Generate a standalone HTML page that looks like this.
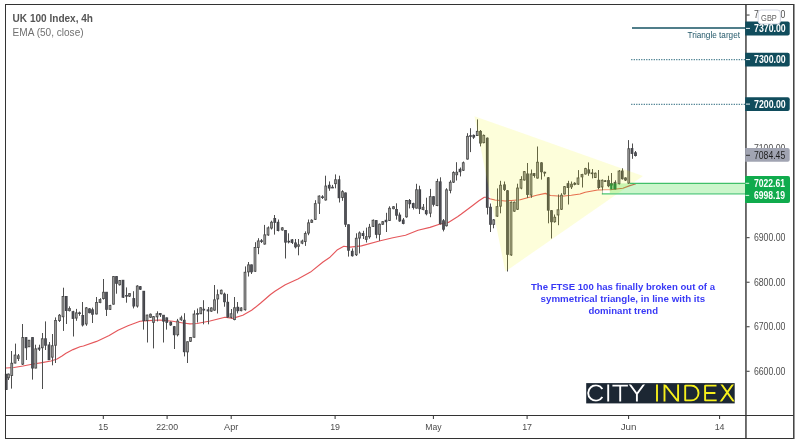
<!DOCTYPE html>
<html><head><meta charset="utf-8"><title>UK 100 Index, 4h</title>
<style>html,body{margin:0;padding:0;background:#fff;}svg{display:block;}text{font-family:"Liberation Sans",sans-serif;}</style>
</head><body><div style="will-change:transform;width:799px;height:445px;background:#fff">
<svg width="799" height="445" viewBox="0 0 799 445">
<rect x="0" y="0" width="799" height="445" fill="#ffffff"/>
<line x1="632" y1="28" x2="746" y2="28" stroke="#165363" stroke-width="1.7"/>
<line x1="631.2" y1="59.7" x2="746" y2="59.7" stroke="#41798a" stroke-width="1.3" stroke-dasharray="1.2,1.3"/>
<line x1="631.2" y1="104.3" x2="746" y2="104.3" stroke="#41798a" stroke-width="1.3" stroke-dasharray="1.2,1.3"/>
<text x="740" y="37.7" font-size="8.2" fill="#24596a" text-anchor="end" textLength="52.5" lengthAdjust="spacingAndGlyphs">Triangle target</text>
<polyline points="6,368 14,367.5 23,366 32,364.2 42,362.6 51,361 57,359 62,356 66,353.2 73,349.6 80,346.8 83.4,346 96.6,341.4 109.2,335.5 118,330.3 128,325.8 140,321.2 148.6,320.6 160,320 172.7,321.2 183,323 190,323.9 197,323.5 210,321 225,317.2 232.7,318.4 242.8,315.3 251.6,310.3 260.4,303.3 270.5,294.5 275.3,291 285.3,284.7 297.9,279 310.5,272.1 323,262 330,257.2 337.5,249.7 343.8,246.3 350,247.1 361.4,245.9 380.3,240.8 392.9,237.7 405.5,235.2 418,230.2 430,227.4 439.4,224.2 448.4,222.4 457.9,216.5 461,214.3 471.7,206.2 478.9,200.8 484.3,197.2 487,197.2 489.7,198.7 495,200 505.2,201 520.2,199.7 536.6,195.3 545.4,193.4 550.4,195.5 561.8,196.2 571.3,195.3 580,194 585.2,192.2 597.7,190 610.3,189.7 622.9,188.2 629.2,185.9 636,183.8" fill="none" stroke="#e5575b" stroke-width="1.15" stroke-linejoin="round"/>
<g shape-rendering="auto">
<rect x="6" y="374" width="1" height="16" fill="#4e4e4e"/>
<rect x="4.9" y="373.8" width="2.7" height="16.1" fill="#3d3e43"/>
<rect x="5.7" y="374.3" width="1.1" height="15.1" fill="#515258"/>
<rect x="8" y="373.5" width="1" height="6.5" fill="#4e4e4e"/>
<rect x="7.15" y="373.7" width="2.7" height="4.5" fill="#484848"/>
<rect x="7.85" y="374.6" width="1.3" height="2.7" fill="#959595"/>
<rect x="11" y="351" width="1" height="37.6" fill="#4e4e4e"/>
<rect x="10.4" y="362.8" width="2.7" height="13.1" fill="#484848"/>
<rect x="11.1" y="363.7" width="1.3" height="11.3" fill="#959595"/>
<rect x="15" y="343.6" width="1" height="19.7" fill="#4e4e4e"/>
<rect x="13.65" y="354.6" width="2.7" height="8.9" fill="#484848"/>
<rect x="14.35" y="355.5" width="1.3" height="7.1" fill="#959595"/>
<rect x="18" y="354" width="1" height="7" fill="#4e4e4e"/>
<rect x="16.9" y="355.4" width="2.7" height="3.5" fill="#484848"/>
<rect x="17.6" y="356" width="1.3" height="2.3" fill="#767676"/>
<rect x="22" y="324" width="1" height="41" fill="#4e4e4e"/>
<rect x="21.4" y="337.1" width="2.7" height="27.5" fill="#484848"/>
<rect x="22.1" y="338" width="1.3" height="25.7" fill="#959595"/>
<rect x="26" y="337.3" width="1" height="22.7" fill="#4e4e4e"/>
<rect x="24.65" y="337.1" width="2.7" height="11.1" fill="#3d3e43"/>
<rect x="25.45" y="337.6" width="1.1" height="10.1" fill="#515258"/>
<rect x="29" y="340" width="1" height="7" fill="#4e4e4e"/>
<rect x="27.65" y="339.8" width="2.7" height="7.4" fill="#484848"/>
<rect x="28.35" y="340.7" width="1.3" height="5.6" fill="#959595"/>
<rect x="32" y="337.3" width="1" height="42.3" fill="#4e4e4e"/>
<rect x="31.15" y="337.1" width="2.7" height="31.4" fill="#3d3e43"/>
<rect x="31.95" y="337.6" width="1.1" height="30.4" fill="#515258"/>
<rect x="35" y="344.7" width="1" height="23.6" fill="#4e4e4e"/>
<rect x="34.4" y="348.4" width="2.7" height="20.1" fill="#484848"/>
<rect x="35.1" y="349.3" width="1.3" height="18.3" fill="#959595"/>
<rect x="39" y="344.7" width="1" height="6.3" fill="#4e4e4e"/>
<rect x="37.65" y="347.6" width="2.7" height="2" fill="#3d3e43"/>
<rect x="38.45" y="348.1" width="1.1" height="1" fill="#515258"/>
<rect x="42" y="333" width="1" height="56" fill="#4e4e4e"/>
<rect x="40.9" y="338.3" width="2.7" height="9.9" fill="#484848"/>
<rect x="41.6" y="339.2" width="1.3" height="8.1" fill="#959595"/>
<rect x="45" y="321.4" width="1" height="28.6" fill="#4e4e4e"/>
<rect x="44.15" y="338.3" width="2.7" height="7.4" fill="#3d3e43"/>
<rect x="44.95" y="338.8" width="1.1" height="6.4" fill="#515258"/>
<rect x="49" y="342" width="1" height="18" fill="#4e4e4e"/>
<rect x="47.65" y="344.5" width="2.7" height="15.7" fill="#3d3e43"/>
<rect x="48.45" y="345" width="1.1" height="14.7" fill="#515258"/>
<rect x="52" y="334" width="1" height="31.3" fill="#4e4e4e"/>
<rect x="50.9" y="345.3" width="2.7" height="12.3" fill="#484848"/>
<rect x="51.6" y="346.2" width="1.3" height="10.5" fill="#959595"/>
<rect x="55" y="317.4" width="1" height="45.6" fill="#4e4e4e"/>
<rect x="54.15" y="320" width="2.7" height="25.7" fill="#484848"/>
<rect x="54.85" y="320.9" width="1.3" height="23.9" fill="#959595"/>
<rect x="59" y="314" width="1" height="8" fill="#4e4e4e"/>
<rect x="58.15" y="314.8" width="2.7" height="6.2" fill="#484848"/>
<rect x="58.85" y="315.7" width="1.3" height="4.4" fill="#959595"/>
<rect x="63" y="287.7" width="1" height="43.2" fill="#4e4e4e"/>
<rect x="61.65" y="296" width="2.7" height="21.2" fill="#484848"/>
<rect x="62.35" y="296.9" width="1.3" height="19.4" fill="#959595"/>
<rect x="66" y="296" width="1" height="28" fill="#4e4e4e"/>
<rect x="64.9" y="296" width="2.7" height="15" fill="#3d3e43"/>
<rect x="65.7" y="296.5" width="1.1" height="14" fill="#515258"/>
<rect x="69" y="306.4" width="1" height="5" fill="#4e4e4e"/>
<rect x="68.15" y="308.1" width="2.7" height="3" fill="#484848"/>
<rect x="68.85" y="308.7" width="1.3" height="1.8" fill="#767676"/>
<rect x="73" y="310.8" width="1" height="25.7" fill="#4e4e4e"/>
<rect x="71.65" y="311.2" width="2.7" height="7.7" fill="#3d3e43"/>
<rect x="72.45" y="311.7" width="1.1" height="6.7" fill="#515258"/>
<rect x="76" y="308.9" width="1" height="11.9" fill="#4e4e4e"/>
<rect x="74.9" y="312.4" width="2.7" height="6.1" fill="#484848"/>
<rect x="75.6" y="313.3" width="1.3" height="4.3" fill="#959595"/>
<rect x="79" y="311.6" width="1" height="4.2" fill="#4e4e4e"/>
<rect x="78.15" y="312.4" width="2.7" height="1.6" fill="#3d3e43"/>
<rect x="78.95" y="312.9" width="1.1" height="0.6" fill="#515258"/>
<rect x="82" y="302" width="1" height="24.5" fill="#4e4e4e"/>
<rect x="81.4" y="315" width="2.7" height="10.4" fill="#3d3e43"/>
<rect x="82.2" y="315.5" width="1.1" height="9.4" fill="#515258"/>
<rect x="86" y="307" width="1" height="18.8" fill="#4e4e4e"/>
<rect x="84.9" y="307.4" width="2.7" height="17" fill="#484848"/>
<rect x="85.6" y="308.3" width="1.3" height="15.2" fill="#959595"/>
<rect x="89" y="308.2" width="1" height="5.1" fill="#4e4e4e"/>
<rect x="88.15" y="308.4" width="2.7" height="4.7" fill="#3d3e43"/>
<rect x="88.95" y="308.9" width="1.1" height="3.7" fill="#515258"/>
<rect x="92" y="307.6" width="1" height="15.4" fill="#4e4e4e"/>
<rect x="91.15" y="309.3" width="2.7" height="5.4" fill="#3d3e43"/>
<rect x="91.95" y="309.8" width="1.1" height="4.4" fill="#515258"/>
<rect x="96" y="297" width="1" height="17.4" fill="#4e4e4e"/>
<rect x="95.15" y="302" width="2.7" height="12.4" fill="#484848"/>
<rect x="95.85" y="302.9" width="1.3" height="10.6" fill="#959595"/>
<rect x="100" y="298.2" width="1" height="5" fill="#4e4e4e"/>
<rect x="98.65" y="299.1" width="2.7" height="3.9" fill="#484848"/>
<rect x="99.35" y="299.7" width="1.3" height="2.7" fill="#767676"/>
<rect x="103" y="279" width="1" height="20.6" fill="#4e4e4e"/>
<rect x="102.15" y="291.8" width="2.7" height="7.2" fill="#484848"/>
<rect x="102.85" y="292.7" width="1.3" height="5.4" fill="#959595"/>
<rect x="106" y="292" width="1" height="24" fill="#4e4e4e"/>
<rect x="105.15" y="291.8" width="2.7" height="18" fill="#3d3e43"/>
<rect x="105.95" y="292.3" width="1.1" height="17" fill="#515258"/>
<rect x="110" y="304.8" width="1" height="5.1" fill="#4e4e4e"/>
<rect x="108.65" y="305.1" width="2.7" height="4.7" fill="#484848"/>
<rect x="109.35" y="306" width="1.3" height="2.9" fill="#959595"/>
<rect x="113" y="276.3" width="1" height="28.3" fill="#4e4e4e"/>
<rect x="112.15" y="276.1" width="2.7" height="28.5" fill="#484848"/>
<rect x="112.85" y="277" width="1.3" height="26.7" fill="#959595"/>
<rect x="116" y="276.3" width="1" height="17.4" fill="#4e4e4e"/>
<rect x="115.15" y="276.1" width="2.7" height="7.7" fill="#3d3e43"/>
<rect x="115.95" y="276.6" width="1.1" height="6.7" fill="#515258"/>
<rect x="119" y="280" width="1" height="5.5" fill="#4e4e4e"/>
<rect x="118.4" y="280.1" width="2.7" height="5.1" fill="#484848"/>
<rect x="119.1" y="281" width="1.3" height="3.3" fill="#959595"/>
<rect x="123" y="280" width="1" height="18" fill="#4e4e4e"/>
<rect x="121.65" y="279.8" width="2.7" height="17.9" fill="#3d3e43"/>
<rect x="122.45" y="280.3" width="1.1" height="16.9" fill="#515258"/>
<rect x="126" y="287.4" width="1" height="15.3" fill="#4e4e4e"/>
<rect x="125.15" y="295" width="2.7" height="1.6" fill="#3d3e43"/>
<rect x="125.95" y="295.5" width="1.1" height="0.6" fill="#515258"/>
<rect x="129" y="293" width="1" height="4" fill="#4e4e4e"/>
<rect x="128.15" y="293.1" width="2.7" height="3.5" fill="#484848"/>
<rect x="128.85" y="293.7" width="1.3" height="2.3" fill="#767676"/>
<rect x="133" y="291.2" width="1" height="17.2" fill="#4e4e4e"/>
<rect x="132.4" y="298.1" width="2.7" height="8.4" fill="#3d3e43"/>
<rect x="133.2" y="298.6" width="1.1" height="7.4" fill="#515258"/>
<rect x="137" y="285.2" width="1" height="22.4" fill="#4e4e4e"/>
<rect x="135.9" y="285.6" width="2.7" height="20.9" fill="#484848"/>
<rect x="136.6" y="286.5" width="1.3" height="19.1" fill="#959595"/>
<rect x="140" y="286" width="1" height="4" fill="#4e4e4e"/>
<rect x="138.9" y="286.2" width="2.7" height="3.5" fill="#3d3e43"/>
<rect x="139.7" y="286.7" width="1.1" height="2.5" fill="#515258"/>
<rect x="143" y="291" width="1" height="38.6" fill="#4e4e4e"/>
<rect x="142.4" y="290.8" width="2.7" height="30.2" fill="#3d3e43"/>
<rect x="143.2" y="291.3" width="1.1" height="29.2" fill="#515258"/>
<rect x="147" y="314.8" width="1" height="27.7" fill="#4e4e4e"/>
<rect x="145.65" y="314.6" width="2.7" height="6.4" fill="#484848"/>
<rect x="146.35" y="315.5" width="1.3" height="4.6" fill="#959595"/>
<rect x="150" y="313.5" width="1" height="4.5" fill="#4e4e4e"/>
<rect x="149.15" y="313.8" width="2.7" height="3.9" fill="#484848"/>
<rect x="149.85" y="314.4" width="1.3" height="2.7" fill="#767676"/>
<rect x="153" y="316" width="1" height="32.4" fill="#4e4e4e"/>
<rect x="152.15" y="316.2" width="2.7" height="6.6" fill="#484848"/>
<rect x="152.85" y="317.1" width="1.3" height="4.8" fill="#959595"/>
<rect x="157" y="311.3" width="1" height="10.1" fill="#4e4e4e"/>
<rect x="155.65" y="313.3" width="2.7" height="4" fill="#484848"/>
<rect x="156.35" y="314.2" width="1.3" height="2.2" fill="#959595"/>
<rect x="160" y="313" width="1" height="4" fill="#4e4e4e"/>
<rect x="158.9" y="313" width="2.7" height="2.2" fill="#3d3e43"/>
<rect x="159.7" y="313.5" width="1.1" height="1.2" fill="#515258"/>
<rect x="163" y="315" width="1" height="27.5" fill="#4e4e4e"/>
<rect x="162.15" y="314.8" width="2.7" height="6.8" fill="#3d3e43"/>
<rect x="162.95" y="315.3" width="1.1" height="5.8" fill="#515258"/>
<rect x="166" y="317.6" width="1" height="12" fill="#4e4e4e"/>
<rect x="165.4" y="317.4" width="2.7" height="5.4" fill="#3d3e43"/>
<rect x="166.2" y="317.9" width="1.1" height="4.4" fill="#515258"/>
<rect x="170" y="321.5" width="1" height="4.3" fill="#4e4e4e"/>
<rect x="169.4" y="321.8" width="2.7" height="3.6" fill="#3d3e43"/>
<rect x="170.2" y="322.3" width="1.1" height="2.6" fill="#515258"/>
<rect x="174" y="326" width="1" height="23" fill="#4e4e4e"/>
<rect x="172.9" y="326.2" width="2.7" height="9" fill="#3d3e43"/>
<rect x="173.7" y="326.7" width="1.1" height="8" fill="#515258"/>
<rect x="177" y="318.9" width="1" height="17.5" fill="#4e4e4e"/>
<rect x="176.4" y="320.6" width="2.7" height="14.6" fill="#484848"/>
<rect x="177.1" y="321.5" width="1.3" height="12.8" fill="#959595"/>
<rect x="181" y="315.7" width="1" height="5.1" fill="#4e4e4e"/>
<rect x="179.65" y="317.4" width="2.7" height="2.8" fill="#484848"/>
<rect x="180.35" y="318" width="1.3" height="1.6" fill="#767676"/>
<rect x="184" y="313.2" width="1" height="43.2" fill="#4e4e4e"/>
<rect x="182.9" y="319.8" width="2.7" height="32.4" fill="#3d3e43"/>
<rect x="183.7" y="320.3" width="1.1" height="31.4" fill="#515258"/>
<rect x="187" y="341.5" width="1" height="21.5" fill="#4e4e4e"/>
<rect x="186.15" y="341.3" width="2.7" height="11" fill="#484848"/>
<rect x="186.85" y="342.2" width="1.3" height="9.2" fill="#959595"/>
<rect x="190" y="337" width="1" height="5" fill="#4e4e4e"/>
<rect x="189.15" y="337" width="2.7" height="4.7" fill="#484848"/>
<rect x="189.85" y="337.9" width="1.3" height="2.9" fill="#959595"/>
<rect x="194" y="310.3" width="1" height="27.2" fill="#4e4e4e"/>
<rect x="192.65" y="313.6" width="2.7" height="24.1" fill="#484848"/>
<rect x="193.35" y="314.5" width="1.3" height="22.3" fill="#959595"/>
<rect x="197" y="308.5" width="1" height="14" fill="#4e4e4e"/>
<rect x="196.15" y="313" width="2.7" height="1.7" fill="#3d3e43"/>
<rect x="196.95" y="313.5" width="1.1" height="0.7" fill="#515258"/>
<rect x="200" y="307.5" width="1" height="6.5" fill="#4e4e4e"/>
<rect x="199.4" y="307.3" width="2.7" height="6.9" fill="#484848"/>
<rect x="200.1" y="308.2" width="1.3" height="5.1" fill="#959595"/>
<rect x="203" y="300.2" width="1" height="24.1" fill="#4e4e4e"/>
<rect x="202.4" y="308.8" width="2.7" height="1.7" fill="#3d3e43"/>
<rect x="203.2" y="309.3" width="1.1" height="0.7" fill="#515258"/>
<rect x="208" y="307" width="1" height="17.3" fill="#4e4e4e"/>
<rect x="206.65" y="309.4" width="2.7" height="2" fill="#3d3e43"/>
<rect x="207.45" y="309.9" width="1.1" height="1" fill="#515258"/>
<rect x="211" y="307.4" width="1" height="4.4" fill="#4e4e4e"/>
<rect x="209.9" y="307.5" width="2.7" height="4.1" fill="#484848"/>
<rect x="210.6" y="308.4" width="1.3" height="2.3" fill="#959595"/>
<rect x="214" y="285" width="1" height="25.7" fill="#4e4e4e"/>
<rect x="213.15" y="299.4" width="2.7" height="11.2" fill="#484848"/>
<rect x="213.85" y="300.3" width="1.3" height="9.4" fill="#959595"/>
<rect x="217" y="289.5" width="1" height="24" fill="#4e4e4e"/>
<rect x="216.4" y="294.3" width="2.7" height="5.1" fill="#484848"/>
<rect x="217.1" y="295.2" width="1.3" height="3.3" fill="#959595"/>
<rect x="221" y="289.6" width="1" height="4.8" fill="#4e4e4e"/>
<rect x="219.9" y="289.8" width="2.7" height="4.4" fill="#484848"/>
<rect x="220.6" y="290.7" width="1.3" height="2.6" fill="#959595"/>
<rect x="224" y="292.6" width="1" height="14.1" fill="#4e4e4e"/>
<rect x="223.15" y="293.7" width="2.7" height="8.5" fill="#3d3e43"/>
<rect x="223.95" y="294.2" width="1.1" height="7.5" fill="#515258"/>
<rect x="227" y="293.9" width="1" height="23.7" fill="#4e4e4e"/>
<rect x="226.4" y="301.8" width="2.7" height="15.7" fill="#3d3e43"/>
<rect x="227.2" y="302.3" width="1.1" height="14.7" fill="#515258"/>
<rect x="231" y="309" width="1" height="9.4" fill="#4e4e4e"/>
<rect x="229.65" y="313.3" width="2.7" height="4.4" fill="#484848"/>
<rect x="230.35" y="314.2" width="1.3" height="2.6" fill="#959595"/>
<rect x="234" y="297" width="1" height="23.3" fill="#4e4e4e"/>
<rect x="233.15" y="307.3" width="2.7" height="12.7" fill="#484848"/>
<rect x="233.85" y="308.2" width="1.3" height="10.9" fill="#959595"/>
<rect x="237" y="302" width="1" height="11.4" fill="#4e4e4e"/>
<rect x="236.4" y="306.8" width="2.7" height="4.4" fill="#3d3e43"/>
<rect x="237.2" y="307.3" width="1.1" height="3.4" fill="#515258"/>
<rect x="241" y="307.3" width="1" height="4" fill="#4e4e4e"/>
<rect x="239.65" y="307.5" width="2.7" height="3.6" fill="#484848"/>
<rect x="240.35" y="308.1" width="1.3" height="2.4" fill="#767676"/>
<rect x="245" y="266.4" width="1" height="44.2" fill="#4e4e4e"/>
<rect x="243.65" y="271.8" width="2.7" height="38.4" fill="#484848"/>
<rect x="244.35" y="272.7" width="1.3" height="36.6" fill="#959595"/>
<rect x="248" y="262" width="1" height="14.5" fill="#4e4e4e"/>
<rect x="247.15" y="264.4" width="2.7" height="7.9" fill="#484848"/>
<rect x="247.85" y="265.3" width="1.3" height="6.1" fill="#959595"/>
<rect x="251" y="264.6" width="1" height="9.4" fill="#4e4e4e"/>
<rect x="250.15" y="264.4" width="2.7" height="7.9" fill="#3d3e43"/>
<rect x="250.95" y="264.9" width="1.1" height="6.9" fill="#515258"/>
<rect x="255" y="242.2" width="1" height="29.6" fill="#4e4e4e"/>
<rect x="253.65" y="247" width="2.7" height="24.7" fill="#484848"/>
<rect x="254.35" y="247.9" width="1.3" height="22.9" fill="#959595"/>
<rect x="258" y="238.2" width="1" height="16" fill="#4e4e4e"/>
<rect x="256.9" y="240.5" width="2.7" height="7.4" fill="#484848"/>
<rect x="257.6" y="241.4" width="1.3" height="5.6" fill="#959595"/>
<rect x="261" y="239" width="1" height="4" fill="#4e4e4e"/>
<rect x="260.15" y="240.3" width="2.7" height="1.6" fill="#3d3e43"/>
<rect x="260.95" y="240.8" width="1.1" height="0.6" fill="#515258"/>
<rect x="264" y="224.9" width="1" height="19.7" fill="#4e4e4e"/>
<rect x="263.4" y="234.4" width="2.7" height="10.1" fill="#484848"/>
<rect x="264.1" y="235.3" width="1.3" height="8.3" fill="#959595"/>
<rect x="268" y="226.4" width="1" height="9.4" fill="#4e4e4e"/>
<rect x="266.65" y="227.4" width="2.7" height="8" fill="#484848"/>
<rect x="267.35" y="228.3" width="1.3" height="6.2" fill="#959595"/>
<rect x="271" y="220.7" width="1" height="8.8" fill="#4e4e4e"/>
<rect x="270.15" y="221.8" width="2.7" height="6.7" fill="#484848"/>
<rect x="270.85" y="222.7" width="1.3" height="4.9" fill="#959595"/>
<rect x="274" y="215" width="1" height="19.6" fill="#4e4e4e"/>
<rect x="273.4" y="218" width="2.7" height="4.8" fill="#3d3e43"/>
<rect x="274.2" y="218.5" width="1.1" height="3.8" fill="#515258"/>
<rect x="278" y="219.5" width="1" height="11.9" fill="#4e4e4e"/>
<rect x="276.65" y="221.8" width="2.7" height="9.2" fill="#3d3e43"/>
<rect x="277.45" y="222.3" width="1.1" height="8.2" fill="#515258"/>
<rect x="282" y="227.2" width="1" height="3.4" fill="#4e4e4e"/>
<rect x="280.9" y="227.4" width="2.7" height="3" fill="#484848"/>
<rect x="281.6" y="228" width="1.3" height="1.8" fill="#767676"/>
<rect x="285" y="230.2" width="1" height="28.3" fill="#4e4e4e"/>
<rect x="284.15" y="230" width="2.7" height="12.6" fill="#3d3e43"/>
<rect x="284.95" y="230.5" width="1.1" height="11.6" fill="#515258"/>
<rect x="288" y="233.3" width="1" height="10.1" fill="#4e4e4e"/>
<rect x="287.4" y="240.8" width="2.7" height="1.6" fill="#3d3e43"/>
<rect x="288.2" y="241.3" width="1.1" height="0.6" fill="#515258"/>
<rect x="292" y="239" width="1" height="5" fill="#4e4e4e"/>
<rect x="290.65" y="239.4" width="2.7" height="3.5" fill="#3d3e43"/>
<rect x="291.45" y="239.9" width="1.1" height="2.5" fill="#515258"/>
<rect x="295" y="239" width="1" height="9.4" fill="#4e4e4e"/>
<rect x="294.15" y="242.5" width="2.7" height="4.8" fill="#3d3e43"/>
<rect x="294.95" y="243" width="1.1" height="3.8" fill="#515258"/>
<rect x="298" y="239" width="1" height="16.3" fill="#4e4e4e"/>
<rect x="297.15" y="244.4" width="2.7" height="2.3" fill="#484848"/>
<rect x="297.85" y="245" width="1.3" height="1.1" fill="#767676"/>
<rect x="302" y="239.6" width="1" height="4.6" fill="#4e4e4e"/>
<rect x="300.65" y="240.6" width="2.7" height="3" fill="#484848"/>
<rect x="301.35" y="241.2" width="1.3" height="1.8" fill="#767676"/>
<rect x="305" y="231.4" width="1" height="14.5" fill="#4e4e4e"/>
<rect x="303.9" y="233.1" width="2.7" height="8.8" fill="#484848"/>
<rect x="304.6" y="234" width="1.3" height="7" fill="#959595"/>
<rect x="308" y="219.5" width="1" height="15.7" fill="#4e4e4e"/>
<rect x="307.15" y="222.4" width="2.7" height="11.1" fill="#484848"/>
<rect x="307.85" y="223.3" width="1.3" height="9.3" fill="#959595"/>
<rect x="311" y="219.3" width="1" height="3.7" fill="#4e4e4e"/>
<rect x="310.4" y="219.8" width="2.7" height="3" fill="#484848"/>
<rect x="311.1" y="220.4" width="1.3" height="1.8" fill="#767676"/>
<rect x="315" y="200.2" width="1" height="19.8" fill="#4e4e4e"/>
<rect x="313.9" y="203.2" width="2.7" height="16.6" fill="#484848"/>
<rect x="314.6" y="204.1" width="1.3" height="14.8" fill="#959595"/>
<rect x="319" y="195.4" width="1" height="18.6" fill="#4e4e4e"/>
<rect x="317.65" y="195.6" width="2.7" height="8" fill="#484848"/>
<rect x="318.35" y="196.5" width="1.3" height="6.2" fill="#959595"/>
<rect x="322" y="195.2" width="1" height="3.8" fill="#4e4e4e"/>
<rect x="321.15" y="196.4" width="2.7" height="1.6" fill="#3d3e43"/>
<rect x="321.95" y="196.9" width="1.1" height="0.6" fill="#515258"/>
<rect x="325" y="175.7" width="1" height="24.9" fill="#4e4e4e"/>
<rect x="324.4" y="185.6" width="2.7" height="14.8" fill="#484848"/>
<rect x="325.1" y="186.5" width="1.3" height="13" fill="#959595"/>
<rect x="329" y="181.4" width="1" height="9.4" fill="#4e4e4e"/>
<rect x="327.9" y="184.8" width="2.7" height="3.7" fill="#3d3e43"/>
<rect x="328.7" y="185.3" width="1.1" height="2.7" fill="#515258"/>
<rect x="332" y="184.9" width="1" height="3.1" fill="#4e4e4e"/>
<rect x="331.15" y="186.8" width="2.7" height="1.6" fill="#3d3e43"/>
<rect x="331.95" y="187.3" width="1.1" height="0.6" fill="#515258"/>
<rect x="335" y="174.4" width="1" height="13.9" fill="#4e4e4e"/>
<rect x="334.15" y="179.3" width="2.7" height="4.8" fill="#484848"/>
<rect x="334.85" y="180.2" width="1.3" height="3" fill="#959595"/>
<rect x="339" y="175.7" width="1" height="26.8" fill="#4e4e4e"/>
<rect x="337.65" y="179.3" width="2.7" height="18.9" fill="#3d3e43"/>
<rect x="338.45" y="179.8" width="1.1" height="17.9" fill="#515258"/>
<rect x="342" y="190.2" width="1" height="10.6" fill="#4e4e4e"/>
<rect x="341.15" y="191.2" width="2.7" height="6.7" fill="#484848"/>
<rect x="341.85" y="192.1" width="1.3" height="4.9" fill="#959595"/>
<rect x="345" y="192.5" width="1" height="34.5" fill="#4e4e4e"/>
<rect x="344.15" y="192.5" width="2.7" height="32.2" fill="#3d3e43"/>
<rect x="344.95" y="193" width="1.1" height="31.2" fill="#515258"/>
<rect x="348" y="224.5" width="1" height="32.1" fill="#4e4e4e"/>
<rect x="347.15" y="224.3" width="2.7" height="26.4" fill="#3d3e43"/>
<rect x="347.95" y="224.8" width="1.1" height="25.4" fill="#515258"/>
<rect x="352" y="248.4" width="1" height="8.2" fill="#4e4e4e"/>
<rect x="350.9" y="250.8" width="2.7" height="5.4" fill="#3d3e43"/>
<rect x="351.7" y="251.3" width="1.1" height="4.4" fill="#515258"/>
<rect x="356" y="233.3" width="1" height="22.7" fill="#4e4e4e"/>
<rect x="354.9" y="237.8" width="2.7" height="17.4" fill="#484848"/>
<rect x="355.6" y="238.7" width="1.3" height="15.6" fill="#959595"/>
<rect x="359" y="231.4" width="1" height="22" fill="#4e4e4e"/>
<rect x="358.15" y="232.5" width="2.7" height="6" fill="#484848"/>
<rect x="358.85" y="233.4" width="1.3" height="4.2" fill="#959595"/>
<rect x="363" y="230.8" width="1" height="8.2" fill="#4e4e4e"/>
<rect x="361.65" y="233.1" width="2.7" height="2.9" fill="#3d3e43"/>
<rect x="362.45" y="233.6" width="1.1" height="1.9" fill="#515258"/>
<rect x="366" y="227.6" width="1" height="14.9" fill="#4e4e4e"/>
<rect x="364.9" y="236.2" width="2.7" height="3.6" fill="#484848"/>
<rect x="365.6" y="236.8" width="1.3" height="2.4" fill="#767676"/>
<rect x="369" y="223.9" width="1" height="14.8" fill="#4e4e4e"/>
<rect x="368.15" y="226.8" width="2.7" height="10.4" fill="#484848"/>
<rect x="368.85" y="227.7" width="1.3" height="8.6" fill="#959595"/>
<rect x="373" y="219.5" width="1" height="7.5" fill="#4e4e4e"/>
<rect x="371.65" y="219.8" width="2.7" height="7" fill="#484848"/>
<rect x="372.35" y="220.7" width="1.3" height="5.2" fill="#959595"/>
<rect x="376" y="220.3" width="1" height="18" fill="#4e4e4e"/>
<rect x="374.9" y="220.1" width="2.7" height="14.7" fill="#3d3e43"/>
<rect x="375.7" y="220.6" width="1.1" height="13.7" fill="#515258"/>
<rect x="379" y="223.5" width="1" height="17.3" fill="#4e4e4e"/>
<rect x="378.15" y="223.8" width="2.7" height="11" fill="#484848"/>
<rect x="378.85" y="224.7" width="1.3" height="9.2" fill="#959595"/>
<rect x="382" y="221" width="1" height="4" fill="#4e4e4e"/>
<rect x="381.4" y="221.2" width="2.7" height="3.5" fill="#484848"/>
<rect x="382.1" y="221.8" width="1.3" height="2.3" fill="#767676"/>
<rect x="386" y="212.8" width="1" height="19.2" fill="#4e4e4e"/>
<rect x="384.65" y="219.8" width="2.7" height="2.4" fill="#3d3e43"/>
<rect x="385.45" y="220.3" width="1.1" height="1.4" fill="#515258"/>
<rect x="389" y="206.3" width="1" height="14.7" fill="#4e4e4e"/>
<rect x="388.15" y="207.8" width="2.7" height="13.1" fill="#484848"/>
<rect x="388.85" y="208.7" width="1.3" height="11.3" fill="#959595"/>
<rect x="393" y="206" width="1" height="3.3" fill="#4e4e4e"/>
<rect x="392.15" y="206.3" width="2.7" height="2.8" fill="#484848"/>
<rect x="392.85" y="206.9" width="1.3" height="1.6" fill="#767676"/>
<rect x="396" y="203.3" width="1" height="16.3" fill="#4e4e4e"/>
<rect x="395.15" y="209" width="2.7" height="6.7" fill="#3d3e43"/>
<rect x="395.95" y="209.5" width="1.1" height="5.7" fill="#515258"/>
<rect x="399" y="212.5" width="1" height="9.3" fill="#4e4e4e"/>
<rect x="398.4" y="214.6" width="2.7" height="6.8" fill="#3d3e43"/>
<rect x="399.2" y="215.1" width="1.1" height="5.8" fill="#515258"/>
<rect x="403" y="218" width="1" height="6.3" fill="#4e4e4e"/>
<rect x="401.9" y="219.6" width="2.7" height="4.3" fill="#3d3e43"/>
<rect x="402.7" y="220.1" width="1.1" height="3.3" fill="#515258"/>
<rect x="406" y="200.2" width="1" height="17.5" fill="#4e4e4e"/>
<rect x="405.15" y="200" width="2.7" height="17.3" fill="#484848"/>
<rect x="405.85" y="200.9" width="1.3" height="15.5" fill="#959595"/>
<rect x="409" y="199" width="1" height="9.4" fill="#4e4e4e"/>
<rect x="408.4" y="200" width="2.7" height="4.2" fill="#3d3e43"/>
<rect x="409.2" y="200.5" width="1.1" height="3.2" fill="#515258"/>
<rect x="413" y="202.7" width="1" height="6.8" fill="#4e4e4e"/>
<rect x="411.9" y="203.1" width="2.7" height="4.8" fill="#3d3e43"/>
<rect x="412.7" y="203.6" width="1.1" height="3.8" fill="#515258"/>
<rect x="416" y="183.8" width="1" height="24.6" fill="#4e4e4e"/>
<rect x="415.15" y="189.3" width="2.7" height="19.3" fill="#484848"/>
<rect x="415.85" y="190.2" width="1.3" height="17.5" fill="#959595"/>
<rect x="419" y="185.7" width="1" height="28.3" fill="#4e4e4e"/>
<rect x="418.4" y="189.3" width="2.7" height="19.9" fill="#3d3e43"/>
<rect x="419.2" y="189.8" width="1.1" height="18.9" fill="#515258"/>
<rect x="423" y="204" width="1" height="6.3" fill="#4e4e4e"/>
<rect x="421.65" y="206.8" width="2.7" height="3.2" fill="#484848"/>
<rect x="422.35" y="207.4" width="1.3" height="2" fill="#767676"/>
<rect x="426" y="197.7" width="1" height="17.6" fill="#4e4e4e"/>
<rect x="424.9" y="210.1" width="2.7" height="4.1" fill="#3d3e43"/>
<rect x="425.7" y="210.6" width="1.1" height="3.1" fill="#515258"/>
<rect x="430" y="188.9" width="1" height="28.3" fill="#4e4e4e"/>
<rect x="428.9" y="196.2" width="2.7" height="17.4" fill="#484848"/>
<rect x="429.6" y="197.1" width="1.3" height="15.6" fill="#959595"/>
<rect x="433" y="196.4" width="1" height="10.1" fill="#4e4e4e"/>
<rect x="432.15" y="196.2" width="2.7" height="8.6" fill="#3d3e43"/>
<rect x="432.95" y="196.7" width="1.1" height="7.6" fill="#515258"/>
<rect x="437" y="178.8" width="1" height="27.4" fill="#4e4e4e"/>
<rect x="435.65" y="181.1" width="2.7" height="24.9" fill="#484848"/>
<rect x="436.35" y="182" width="1.3" height="23.1" fill="#959595"/>
<rect x="440" y="177.3" width="1" height="47.2" fill="#4e4e4e"/>
<rect x="438.9" y="181.4" width="2.7" height="42.8" fill="#3d3e43"/>
<rect x="439.7" y="181.9" width="1.1" height="41.8" fill="#515258"/>
<rect x="443" y="219" width="1" height="12.4" fill="#4e4e4e"/>
<rect x="442.15" y="220.3" width="2.7" height="9.4" fill="#3d3e43"/>
<rect x="442.95" y="220.8" width="1.1" height="8.4" fill="#515258"/>
<rect x="446" y="188.2" width="1" height="38.3" fill="#4e4e4e"/>
<rect x="445.15" y="189.4" width="2.7" height="36.8" fill="#484848"/>
<rect x="445.85" y="190.3" width="1.3" height="35" fill="#959595"/>
<rect x="450" y="180.3" width="1" height="13" fill="#4e4e4e"/>
<rect x="448.9" y="181.8" width="2.7" height="9" fill="#484848"/>
<rect x="449.6" y="182.7" width="1.3" height="7.2" fill="#959595"/>
<rect x="453" y="171.3" width="1" height="11.7" fill="#4e4e4e"/>
<rect x="452.15" y="172.1" width="2.7" height="10.5" fill="#484848"/>
<rect x="452.85" y="173" width="1.3" height="8.7" fill="#959595"/>
<rect x="456" y="162.2" width="1" height="18.3" fill="#4e4e4e"/>
<rect x="455.4" y="171.8" width="2.7" height="3.4" fill="#484848"/>
<rect x="456.1" y="172.4" width="1.3" height="2.2" fill="#767676"/>
<rect x="460" y="167.5" width="1" height="8.9" fill="#4e4e4e"/>
<rect x="458.65" y="168.8" width="2.7" height="3.4" fill="#3d3e43"/>
<rect x="459.45" y="169.3" width="1.1" height="2.4" fill="#515258"/>
<rect x="463" y="161.5" width="1" height="9.5" fill="#4e4e4e"/>
<rect x="461.9" y="162.3" width="2.7" height="8.4" fill="#484848"/>
<rect x="462.6" y="163.2" width="1.3" height="6.6" fill="#959595"/>
<rect x="467" y="133.2" width="1" height="26.4" fill="#4e4e4e"/>
<rect x="466.15" y="135.9" width="2.7" height="23.6" fill="#484848"/>
<rect x="466.85" y="136.8" width="1.3" height="21.8" fill="#959595"/>
<rect x="470" y="128.2" width="1" height="23.9" fill="#4e4e4e"/>
<rect x="469.15" y="135.2" width="2.7" height="1.6" fill="#3d3e43"/>
<rect x="469.95" y="135.7" width="1.1" height="0.6" fill="#515258"/>
<rect x="473" y="134.5" width="1" height="4.4" fill="#4e4e4e"/>
<rect x="472.4" y="134.9" width="2.7" height="2.7" fill="#3d3e43"/>
<rect x="473.2" y="135.4" width="1.1" height="1.7" fill="#515258"/>
<rect x="477" y="119.4" width="1" height="16.6" fill="#4e4e4e"/>
<rect x="475.9" y="130.9" width="2.7" height="5.1" fill="#484848"/>
<rect x="476.6" y="131.8" width="1.3" height="3.3" fill="#959595"/>
<rect x="480" y="130" width="1" height="16.4" fill="#4e4e4e"/>
<rect x="479.15" y="130.9" width="2.7" height="12.6" fill="#3d3e43"/>
<rect x="479.95" y="131.4" width="1.1" height="11.6" fill="#515258"/>
<rect x="483" y="134.5" width="1" height="8.8" fill="#4e4e4e"/>
<rect x="482.4" y="134.9" width="2.7" height="8.2" fill="#484848"/>
<rect x="483.1" y="135.8" width="1.3" height="6.4" fill="#959595"/>
<rect x="487" y="137.5" width="1" height="77" fill="#4e4e4e"/>
<rect x="485.9" y="137.7" width="2.7" height="70.1" fill="#3d3e43"/>
<rect x="486.7" y="138.2" width="1.1" height="69.1" fill="#515258"/>
<rect x="490" y="203.5" width="1" height="28.5" fill="#4e4e4e"/>
<rect x="489.15" y="206.8" width="2.7" height="18" fill="#3d3e43"/>
<rect x="489.95" y="207.3" width="1.1" height="17" fill="#515258"/>
<rect x="493" y="219" width="1" height="9.3" fill="#4e4e4e"/>
<rect x="492.4" y="219.4" width="2.7" height="5.4" fill="#484848"/>
<rect x="493.1" y="220.3" width="1.3" height="3.6" fill="#959595"/>
<rect x="497" y="188.4" width="1" height="28.4" fill="#4e4e4e"/>
<rect x="495.65" y="206.2" width="2.7" height="10.4" fill="#484848"/>
<rect x="496.35" y="207.1" width="1.3" height="8.6" fill="#959595"/>
<rect x="500" y="180.8" width="1" height="32.5" fill="#4e4e4e"/>
<rect x="499.15" y="184.8" width="2.7" height="21.8" fill="#484848"/>
<rect x="499.85" y="185.7" width="1.3" height="20" fill="#959595"/>
<rect x="504" y="181.5" width="1" height="9.5" fill="#4e4e4e"/>
<rect x="503.15" y="184.4" width="2.7" height="5.5" fill="#3d3e43"/>
<rect x="503.95" y="184.9" width="1.1" height="4.5" fill="#515258"/>
<rect x="507" y="190" width="1" height="81.5" fill="#4e4e4e"/>
<rect x="506.15" y="190.3" width="2.7" height="64.5" fill="#3d3e43"/>
<rect x="506.95" y="190.8" width="1.1" height="63.5" fill="#515258"/>
<rect x="511" y="201.5" width="1" height="54.3" fill="#4e4e4e"/>
<rect x="509.65" y="201.8" width="2.7" height="53.6" fill="#484848"/>
<rect x="510.35" y="202.7" width="1.3" height="51.8" fill="#959595"/>
<rect x="514" y="201.5" width="1" height="10.3" fill="#4e4e4e"/>
<rect x="512.9" y="201.8" width="2.7" height="9.8" fill="#484848"/>
<rect x="513.6" y="202.7" width="1.3" height="8" fill="#959595"/>
<rect x="517" y="183.7" width="1" height="26.3" fill="#4e4e4e"/>
<rect x="516.15" y="187.6" width="2.7" height="22.1" fill="#484848"/>
<rect x="516.85" y="188.5" width="1.3" height="20.3" fill="#959595"/>
<rect x="521" y="176.2" width="1" height="13.1" fill="#4e4e4e"/>
<rect x="519.65" y="179" width="2.7" height="9.6" fill="#484848"/>
<rect x="520.35" y="179.9" width="1.3" height="7.8" fill="#959595"/>
<rect x="524" y="171" width="1" height="9.6" fill="#4e4e4e"/>
<rect x="522.9" y="171.2" width="2.7" height="9.2" fill="#484848"/>
<rect x="523.6" y="172.1" width="1.3" height="7.4" fill="#959595"/>
<rect x="527" y="163" width="1" height="35" fill="#4e4e4e"/>
<rect x="526.15" y="173.5" width="2.7" height="21.4" fill="#3d3e43"/>
<rect x="526.95" y="174" width="1.1" height="20.4" fill="#515258"/>
<rect x="531" y="169.5" width="1" height="28.3" fill="#4e4e4e"/>
<rect x="529.65" y="173.5" width="2.7" height="22" fill="#484848"/>
<rect x="530.35" y="174.4" width="1.3" height="20.2" fill="#959595"/>
<rect x="534" y="173" width="1" height="4.7" fill="#4e4e4e"/>
<rect x="532.65" y="173.1" width="2.7" height="2.9" fill="#3d3e43"/>
<rect x="533.45" y="173.6" width="1.1" height="1.9" fill="#515258"/>
<rect x="537" y="146.5" width="1" height="32.1" fill="#4e4e4e"/>
<rect x="536.15" y="161.8" width="2.7" height="16.7" fill="#484848"/>
<rect x="536.85" y="162.7" width="1.3" height="14.9" fill="#959595"/>
<rect x="541" y="162.2" width="1" height="17.4" fill="#4e4e4e"/>
<rect x="540.15" y="162.4" width="2.7" height="9.8" fill="#3d3e43"/>
<rect x="540.95" y="162.9" width="1.1" height="8.8" fill="#515258"/>
<rect x="544" y="171.6" width="1" height="4.8" fill="#4e4e4e"/>
<rect x="543.4" y="171.8" width="2.7" height="1.7" fill="#3d3e43"/>
<rect x="544.2" y="172.3" width="1.1" height="0.7" fill="#515258"/>
<rect x="548" y="177" width="1" height="46.3" fill="#4e4e4e"/>
<rect x="546.9" y="177.3" width="2.7" height="33.3" fill="#3d3e43"/>
<rect x="547.7" y="177.8" width="1.1" height="32.3" fill="#515258"/>
<rect x="551" y="210" width="1" height="28.5" fill="#4e4e4e"/>
<rect x="550.15" y="210.2" width="2.7" height="12" fill="#3d3e43"/>
<rect x="550.95" y="210.7" width="1.1" height="11" fill="#515258"/>
<rect x="554" y="214.5" width="1" height="8.2" fill="#4e4e4e"/>
<rect x="553.4" y="216.8" width="2.7" height="5.4" fill="#484848"/>
<rect x="554.1" y="217.7" width="1.3" height="3.6" fill="#959595"/>
<rect x="558" y="194.5" width="1" height="30.7" fill="#4e4e4e"/>
<rect x="556.65" y="209.3" width="2.7" height="6.1" fill="#484848"/>
<rect x="557.35" y="210.2" width="1.3" height="4.3" fill="#959595"/>
<rect x="561" y="193.2" width="1" height="16.8" fill="#4e4e4e"/>
<rect x="560.15" y="194.8" width="2.7" height="14.9" fill="#484848"/>
<rect x="560.85" y="195.7" width="1.3" height="13.1" fill="#959595"/>
<rect x="564" y="186" width="1" height="8.6" fill="#4e4e4e"/>
<rect x="563.15" y="186.2" width="2.7" height="8.2" fill="#484848"/>
<rect x="563.85" y="187.1" width="1.3" height="6.4" fill="#959595"/>
<rect x="568" y="180.8" width="1" height="23.7" fill="#4e4e4e"/>
<rect x="566.65" y="183.2" width="2.7" height="4.8" fill="#3d3e43"/>
<rect x="567.45" y="183.7" width="1.1" height="3.8" fill="#515258"/>
<rect x="571" y="181.5" width="1" height="7.5" fill="#4e4e4e"/>
<rect x="570.15" y="183.8" width="2.7" height="3.5" fill="#484848"/>
<rect x="570.85" y="184.4" width="1.3" height="2.3" fill="#767676"/>
<rect x="574" y="182.2" width="1" height="3.1" fill="#4e4e4e"/>
<rect x="573.4" y="182.8" width="2.7" height="2" fill="#3d3e43"/>
<rect x="574.2" y="183.3" width="1.1" height="1" fill="#515258"/>
<rect x="578" y="170.1" width="1" height="14.7" fill="#4e4e4e"/>
<rect x="576.65" y="177.5" width="2.7" height="7.1" fill="#484848"/>
<rect x="577.35" y="178.4" width="1.3" height="5.3" fill="#959595"/>
<rect x="582" y="173.8" width="1" height="13.7" fill="#4e4e4e"/>
<rect x="580.65" y="174" width="2.7" height="3.3" fill="#484848"/>
<rect x="581.35" y="174.6" width="1.3" height="2.1" fill="#767676"/>
<rect x="585" y="167.8" width="1" height="6.8" fill="#4e4e4e"/>
<rect x="584.15" y="168.1" width="2.7" height="6.3" fill="#484848"/>
<rect x="584.85" y="169" width="1.3" height="4.5" fill="#959595"/>
<rect x="588" y="162.4" width="1" height="13.4" fill="#4e4e4e"/>
<rect x="587.4" y="169.4" width="2.7" height="4.1" fill="#3d3e43"/>
<rect x="588.2" y="169.9" width="1.1" height="3.1" fill="#515258"/>
<rect x="592" y="169" width="1" height="9.4" fill="#4e4e4e"/>
<rect x="590.65" y="172.5" width="2.7" height="1.6" fill="#3d3e43"/>
<rect x="591.45" y="173" width="1.1" height="0.6" fill="#515258"/>
<rect x="595" y="172.5" width="1" height="5.5" fill="#4e4e4e"/>
<rect x="593.9" y="172.8" width="2.7" height="5.1" fill="#484848"/>
<rect x="594.6" y="173.7" width="1.3" height="3.3" fill="#959595"/>
<rect x="598" y="170" width="1" height="19.3" fill="#4e4e4e"/>
<rect x="597.4" y="179.8" width="2.7" height="8.2" fill="#3d3e43"/>
<rect x="598.2" y="180.3" width="1.1" height="7.2" fill="#515258"/>
<rect x="602" y="179.5" width="1" height="14.6" fill="#4e4e4e"/>
<rect x="600.65" y="179.8" width="2.7" height="7.6" fill="#484848"/>
<rect x="601.35" y="180.7" width="1.3" height="5.8" fill="#959595"/>
<rect x="605" y="180" width="1" height="2" fill="#4e4e4e"/>
<rect x="603.65" y="180.3" width="2.7" height="1.6" fill="#3d3e43"/>
<rect x="604.45" y="180.8" width="1.1" height="0.6" fill="#515258"/>
<rect x="608" y="175.8" width="1" height="11.4" fill="#4e4e4e"/>
<rect x="607.15" y="180.1" width="2.7" height="6.1" fill="#3d3e43"/>
<rect x="607.95" y="180.6" width="1.1" height="5.1" fill="#515258"/>
<rect x="611" y="173" width="1" height="16.3" fill="#4e4e4e"/>
<rect x="610.15" y="183.2" width="2.7" height="2.3" fill="#3d3e43"/>
<rect x="610.95" y="183.7" width="1.1" height="1.3" fill="#515258"/>
<rect x="615" y="180.3" width="1" height="9" fill="#4e4e4e"/>
<rect x="613.65" y="181.9" width="2.7" height="7.3" fill="#3d3e43"/>
<rect x="614.45" y="182.4" width="1.1" height="6.3" fill="#515258"/>
<rect x="619" y="170" width="1" height="14.4" fill="#4e4e4e"/>
<rect x="617.65" y="170.6" width="2.7" height="13.6" fill="#484848"/>
<rect x="618.35" y="171.5" width="1.3" height="11.8" fill="#959595"/>
<rect x="622" y="168.3" width="1" height="11.3" fill="#4e4e4e"/>
<rect x="620.9" y="170.6" width="2.7" height="8.6" fill="#3d3e43"/>
<rect x="621.7" y="171.1" width="1.1" height="7.6" fill="#515258"/>
<rect x="625" y="177.3" width="1" height="3.7" fill="#4e4e4e"/>
<rect x="624.15" y="177.5" width="2.7" height="3" fill="#3d3e43"/>
<rect x="624.95" y="178" width="1.1" height="2" fill="#515258"/>
<rect x="628" y="140.1" width="1" height="43.7" fill="#4e4e4e"/>
<rect x="627.4" y="148.3" width="2.7" height="35.3" fill="#484848"/>
<rect x="628.1" y="149.2" width="1.3" height="33.5" fill="#959595"/>
<rect x="632" y="143.5" width="1" height="15.3" fill="#4e4e4e"/>
<rect x="630.65" y="148.1" width="2.7" height="5.8" fill="#3d3e43"/>
<rect x="631.45" y="148.6" width="1.1" height="4.8" fill="#515258"/>
<rect x="635" y="151" width="1" height="5.5" fill="#4e4e4e"/>
<rect x="634.15" y="152.3" width="2.7" height="3.7" fill="#3d3e43"/>
<rect x="634.95" y="152.8" width="1.1" height="2.7" fill="#515258"/>
</g>
<polygon points="474.4,116.2 505.3,271.6 643,176" fill="#f2f600" fill-opacity="0.145"/>
<rect x="602.4" y="190.4" width="7.4" height="3" fill="#ffffff"/>
<rect x="609.8" y="183.4" width="135.7" height="9.6" fill="#30dc30" fill-opacity="0.25"/>
<rect x="609.9" y="183.6" width="2.6" height="5.8" fill="#2a9236" fill-opacity="0.8"/>
<rect x="613.5" y="183.6" width="2.7" height="5.8" fill="#2a9236" fill-opacity="0.8"/>
<line x1="630" y1="183.4" x2="746" y2="183.4" stroke="#40c069" stroke-width="1.2"/>
<line x1="601.8" y1="193.9" x2="746" y2="193.9" stroke="#4cc876" stroke-width="1.4"/>
<g stroke="#333" fill="none">
<path d="M5.5,4.5 H793.5 M5.5,438.5 H793.5 M5.5,4 V439 M5.5,415.5 H793.5" stroke-width="1"/>
<path d="M793.8,4 V439 M745.95,4.5 V438.5" stroke-width="1.4"/>
</g>
<line x1="746.5" y1="15.04" x2="749.6" y2="15.04" stroke="#333" stroke-width="1"/>
<text x="753.9" y="18.39" font-size="10.2" fill="#4e4e4e" textLength="31.5" lengthAdjust="spacingAndGlyphs">7400.00</text>
<line x1="746.5" y1="59.57" x2="749.6" y2="59.57" stroke="#333" stroke-width="1"/>
<text x="753.9" y="62.92" font-size="10.2" fill="#4e4e4e" textLength="31.5" lengthAdjust="spacingAndGlyphs">7300.00</text>
<line x1="746.5" y1="104.1" x2="749.6" y2="104.1" stroke="#333" stroke-width="1"/>
<text x="753.9" y="107.45" font-size="10.2" fill="#4e4e4e" textLength="31.5" lengthAdjust="spacingAndGlyphs">7200.00</text>
<text x="753.9" y="151.98" font-size="10.2" fill="#4e4e4e" textLength="31.5" lengthAdjust="spacingAndGlyphs">7100.00</text>
<line x1="746.5" y1="237.69" x2="749.6" y2="237.69" stroke="#333" stroke-width="1"/>
<text x="753.9" y="241.04" font-size="10.2" fill="#4e4e4e" textLength="31.5" lengthAdjust="spacingAndGlyphs">6900.00</text>
<line x1="746.5" y1="282.22" x2="749.6" y2="282.22" stroke="#333" stroke-width="1"/>
<text x="753.9" y="285.57" font-size="10.2" fill="#4e4e4e" textLength="31.5" lengthAdjust="spacingAndGlyphs">6800.00</text>
<line x1="746.5" y1="326.75" x2="749.6" y2="326.75" stroke="#333" stroke-width="1"/>
<text x="753.9" y="330.1" font-size="10.2" fill="#4e4e4e" textLength="31.5" lengthAdjust="spacingAndGlyphs">6700.00</text>
<line x1="746.5" y1="371.28" x2="749.6" y2="371.28" stroke="#333" stroke-width="1"/>
<text x="753.9" y="374.63" font-size="10.2" fill="#4e4e4e" textLength="31.5" lengthAdjust="spacingAndGlyphs">6600.00</text>
<path d="M745.2,21.6 H787.7 A2,2 0 0 1 789.7,23.6 V33.4 A2,2 0 0 1 787.7,35.4 H745.2 Z" fill="#104c5c"/>
<line x1="746" y1="28.4" x2="750" y2="28.4" stroke="#e8f0f2" stroke-width="1"/>
<text x="754" y="32.05" font-size="10" font-weight="bold" fill="#fff" textLength="31.7" lengthAdjust="spacingAndGlyphs">7370.00</text>
<path d="M745.2,52.77 H787.7 A2,2 0 0 1 789.7,54.77 V64.57 A2,2 0 0 1 787.7,66.57 H745.2 Z" fill="#104c5c"/>
<line x1="746" y1="59.57" x2="750" y2="59.57" stroke="#e8f0f2" stroke-width="1"/>
<text x="754" y="63.22" font-size="10" font-weight="bold" fill="#fff" textLength="31.7" lengthAdjust="spacingAndGlyphs">7300.00</text>
<path d="M745.2,97.3 H787.7 A2,2 0 0 1 789.7,99.3 V109.1 A2,2 0 0 1 787.7,111.1 H745.2 Z" fill="#104c5c"/>
<line x1="746" y1="104.1" x2="750" y2="104.1" stroke="#e8f0f2" stroke-width="1"/>
<text x="754" y="107.75" font-size="10" font-weight="bold" fill="#fff" textLength="31.7" lengthAdjust="spacingAndGlyphs">7200.00</text>
<rect x="758.2" y="10" width="22.2" height="13.9" rx="3" ry="3" fill="#fff" stroke="#d4d8e4" stroke-width="1"/>
<text x="761.1" y="20.5" font-size="9.6" fill="#606060" textLength="15.7" lengthAdjust="spacingAndGlyphs">GBP</text>
<path d="M745.2,148.1 H787.7 A2,2 0 0 1 789.7,150.1 V159.8 A2,2 0 0 1 787.7,161.8 H745.2 Z" fill="#a1a4b2"/>
<line x1="746" y1="155.3" x2="750" y2="155.3" stroke="#333" stroke-width="1"/>
<text x="754" y="158.8" font-size="10" fill="#1e1e1e" textLength="31.2" lengthAdjust="spacingAndGlyphs">7084.45</text>
<path d="M745.1,176 H788 A2,2 0 0 1 790,178 V200.9 A2,2 0 0 1 788,202.9 H745.1 Z" fill="#10ab4d"/>
<line x1="745.5" y1="183.3" x2="749.2" y2="183.3" stroke="#d8f8e0" stroke-width="1"/>
<line x1="745.5" y1="195.4" x2="749.2" y2="195.4" stroke="#d8f8e0" stroke-width="1"/>
<text x="754" y="187.1" font-size="10" font-weight="bold" fill="#fff" textLength="31" lengthAdjust="spacingAndGlyphs">7022.61</text>
<text x="754" y="199.1" font-size="10" font-weight="bold" fill="#fff" textLength="31" lengthAdjust="spacingAndGlyphs">6998.19</text>
<line x1="103.3" y1="416" x2="103.3" y2="419" stroke="#333" stroke-width="1"/>
<text x="103.3" y="429.5" font-size="8.9" fill="#4c4c4c" text-anchor="middle">15</text>
<line x1="167.1" y1="416" x2="167.1" y2="419" stroke="#333" stroke-width="1"/>
<text x="156.15" y="429.5" font-size="8.9" fill="#4c4c4c" textLength="21.9" lengthAdjust="spacingAndGlyphs">22:00</text>
<line x1="231.2" y1="416" x2="231.2" y2="419" stroke="#333" stroke-width="1"/>
<text x="224.1" y="429.5" font-size="8.9" fill="#4c4c4c" textLength="14.2" lengthAdjust="spacingAndGlyphs">Apr</text>
<line x1="335.1" y1="416" x2="335.1" y2="419" stroke="#333" stroke-width="1"/>
<text x="335.1" y="429.5" font-size="8.9" fill="#4c4c4c" text-anchor="middle">19</text>
<line x1="433.4" y1="416" x2="433.4" y2="419" stroke="#333" stroke-width="1"/>
<text x="425.25" y="429.5" font-size="8.9" fill="#4c4c4c" textLength="16.3" lengthAdjust="spacingAndGlyphs">May</text>
<line x1="527.1" y1="416" x2="527.1" y2="419" stroke="#333" stroke-width="1"/>
<text x="527.1" y="429.5" font-size="8.9" fill="#4c4c4c" text-anchor="middle">17</text>
<line x1="628.6" y1="416" x2="628.6" y2="419" stroke="#333" stroke-width="1"/>
<text x="620.7" y="429.5" font-size="8.9" fill="#4c4c4c" textLength="15.8" lengthAdjust="spacingAndGlyphs">Jun</text>
<line x1="719.6" y1="416" x2="719.6" y2="419" stroke="#333" stroke-width="1"/>
<text x="719.6" y="429.5" font-size="8.9" fill="#4c4c4c" text-anchor="middle">14</text>
<text x="12.6" y="22.4" font-size="10.2" font-weight="bold" fill="#555" textLength="80.4" lengthAdjust="spacingAndGlyphs">UK 100 Index, 4h</text>
<text x="12.6" y="35.7" font-size="10.2" fill="#707070" textLength="71" lengthAdjust="spacingAndGlyphs">EMA (50, close)</text>
<text x="531" y="289.6" font-size="9.5" font-weight="bold" fill="#3838f6" textLength="184" lengthAdjust="spacingAndGlyphs">The FTSE 100 has finally broken out of a</text>
<text x="540.6" y="302.4" font-size="9.5" font-weight="bold" fill="#3838f6" textLength="164.6" lengthAdjust="spacingAndGlyphs">symmetrical triangle, in line with its</text>
<text x="588.4" y="314" font-size="9.5" font-weight="bold" fill="#3838f6" textLength="69.6" lengthAdjust="spacingAndGlyphs">dominant trend</text>
<rect x="586.2" y="383.1" width="148.5" height="20.3" fill="#1c2733"/>
<clipPath id="lc"><rect x="586.2" y="384.5" width="148.5" height="17"/></clipPath>
<g clip-path="url(#lc)" fill="none" stroke-width="1.9" stroke-linecap="butt" stroke-linejoin="bevel">
<g stroke="#ffffff">
<path d="M602.4,388.9 A7.7,7.7 0 1 0 602.4,397.1"/>
<path d="M608.2,384 V402"/>
<path d="M612.4,385.45 H627.9 M620.2,385.45 V402"/>
<path d="M628.5,382.5 L636.9,394 L645.3,382.5 M636.9,394 V402"/>
</g><g stroke="#f6ef1c">
<path d="M657,384 V402"/>
<path d="M664.5,402 V384 M678.1,402 V384 M663.6,383.2 L679,402.8"/>
<path d="M685.2,385.45 H691 A7.55,7.55 0 0 1 691,400.55 H685.2 Z"/>
<path d="M716.5,385.45 H705.1 V400.55 H716.7 M705.1,393 H715.4"/>
<path d="M720.3,382.5 L735,403.5 M734.2,382.5 L719.5,403.5"/>
</g></g>
</svg>
</div></body></html>
